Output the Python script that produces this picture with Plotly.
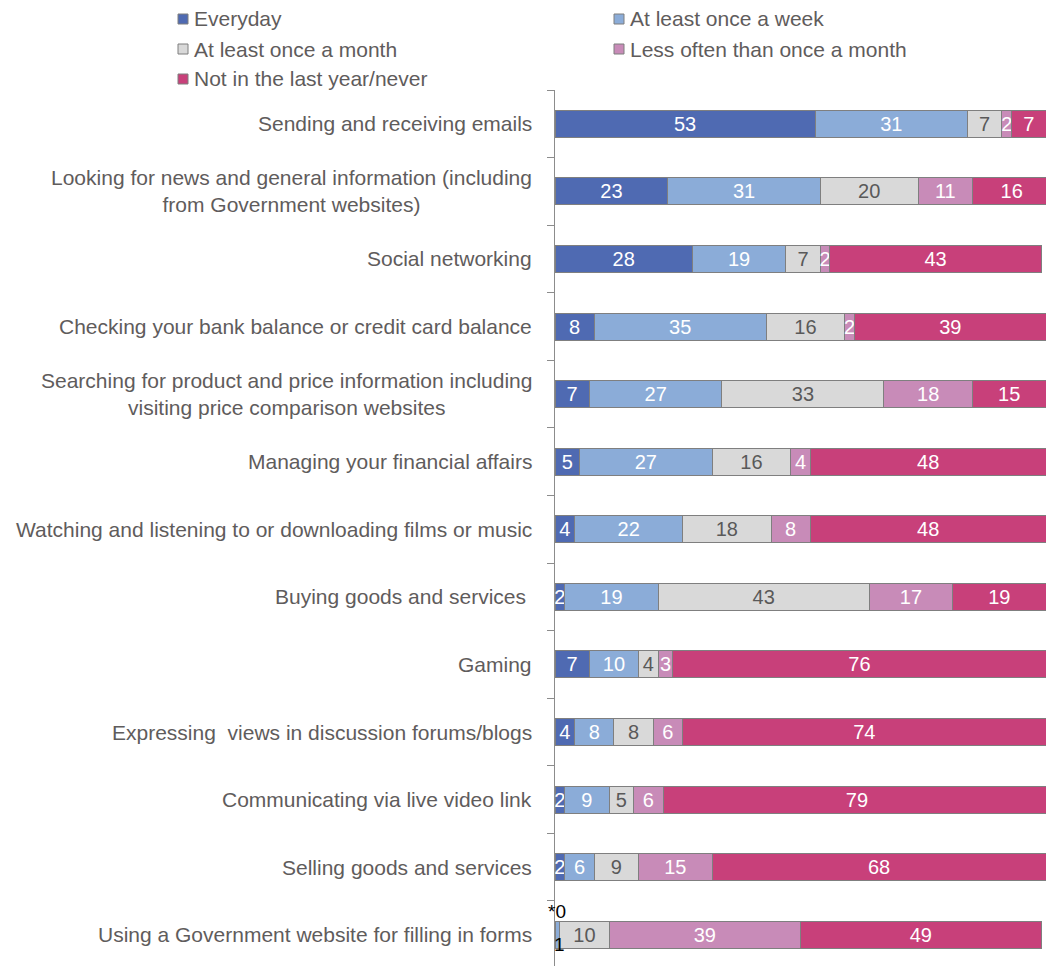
import plotly.graph_objects as go

# Survey activities (top to bottom) and share of respondents per frequency band (%)
activities = [
    "Sending and receiving emails",
    "Looking for news and general information (including<br>from Government websites)",
    "Social networking",
    "Checking your bank balance or credit card balance",
    "Searching for product and price information including<br>visiting price comparison websites",
    "Managing your financial affairs",
    "Watching and listening to or downloading films or music",
    "Buying goods and services\u00a0",
    "Gaming",
    "Expressing\u00a0 views in discussion forums/blogs",
    "Communicating via live video link",
    "Selling goods and services",
    "Using a Government website for filling in forms",
]

series_names = [
    "Everyday",
    "At least once a week",
    "At least once a month",
    "Less often than once a month",
    "Not in the last year/never",
]

everyday = [53, 23, 28, 8, 7, 5, 4, 2, 7, 4, 2, 2, 0]
weekly = [31, 31, 19, 35, 27, 27, 22, 19, 10, 8, 9, 6, 1]
monthly = [7, 20, 7, 16, 33, 16, 18, 43, 4, 8, 5, 9, 10]
less_often = [2, 11, 2, 2, 18, 4, 8, 17, 3, 6, 6, 15, 39]
never = [7, 16, 43, 39, 15, 48, 48, 19, 76, 74, 79, 68, 49]

series_values = [everyday, weekly, monthly, less_often, never]
colors = ["#4F6AB2", "#8BACD8", "#D9D9D9", "#C88BB8", "#C8407A"]
text_colors = ["white", "white", "#595959", "white", "white"]

GREY = "#5F5C5C"
FONT = "Liberation Sans, Arial, sans-serif"

fig = go.Figure()
last = len(activities) - 1
for name, vals, col, tcol in zip(series_names, series_values, colors, text_colors):
    # the last row's two smallest segments are labelled separately below
    labels = [str(v) for v in vals]
    if name in ("Everyday", "At least once a week"):
        labels[last] = ""
    fig.add_trace(go.Bar(
        name=name,
        y=activities,
        x=vals,
        orientation="h",
        marker=dict(color=col, line=dict(color="#7F7F7F", width=1)),
        width=0.4,
        text=labels,
        textposition="inside",
        insidetextanchor="middle",
        constraintext="none",
        textangle=0,
        textfont=dict(family=FONT, size=20, color=tcol),
        showlegend=False,
        hoverinfo="skip",
    ))

# category labels: block right-aligned to the axis, lines centred
for cat in activities:
    fig.add_annotation(
        x=0, xref="paper", y=cat, yref="y",
        text=cat, showarrow=False,
        xanchor="right", xshift=-21, align="center",
        font=dict(family=FONT, size=21, color=GREY),
    )

# labels for the near-zero segments of the last row
fig.add_annotation(x=0, y=activities[last], text="*0", showarrow=False,
                   xanchor="left", xshift=-9, yshift=23,
                   font=dict(family=FONT, size=19, color="black"))
fig.add_annotation(x=0, y=activities[last], text="1", showarrow=False,
                   xanchor="left", xshift=-3, yshift=-10,
                   font=dict(family=FONT, size=19, color="black"))

# legend drawn as a two-column grid of swatches
legend_pos = [(178, 19), (614, 19), (178, 49), (614, 49), (178, 79)]
W, H = 1046, 966
for name, col, (px, py) in zip(series_names, colors, legend_pos):
    fig.add_shape(type="rect", xref="paper", yref="paper",
                  x0=(px - 555) / (W - 555), x1=(px + 10 - 555) / (W - 555),
                  y0=1 + (90 - py - 5) / (H - 90), y1=1 + (90 - py + 5) / (H - 90),
                  fillcolor=col, line=dict(color="#7F7F7F", width=1))
    fig.add_annotation(xref="paper", yref="paper",
                       x=(px + 14 - 555) / (W - 555), y=1 + (90 - py) / (H - 90),
                       text=name, showarrow=False, xanchor="left", yanchor="middle",
                       font=dict(family=FONT, size=21, color=GREY))

fig.update_layout(
    barmode="stack",
    width=W, height=H,
    margin=dict(l=555, r=0, t=90, b=0),
    plot_bgcolor="white", paper_bgcolor="white",
    bargap=0.6,
)
fig.update_xaxes(range=[0, 100], visible=False, fixedrange=True)
fig.update_yaxes(
    categoryorder="array", categoryarray=activities,
    range=[len(activities) - 0.538, -0.5],
    showticklabels=False, ticks="outside", ticklen=7, tickcolor="#8C8C8C",
    tickson="boundaries", showline=True, linecolor="#8C8C8C", linewidth=1,
    showgrid=False, zeroline=False,
)

fig.write_html("out.html")
